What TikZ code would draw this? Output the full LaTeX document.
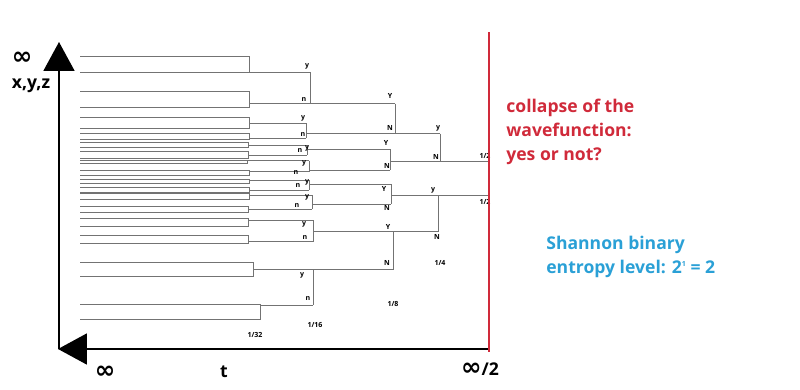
\documentclass[tikz,border=0pt]{standalone}
\usepackage{fontspec}
\setsansfont{Open Sans}
\newfontfamily\infinityfont{DejaVu Sans}
\usetikzlibrary{arrows.meta}
\definecolor{branchgray}{RGB}{115,115,115}
\definecolor{collapsered}{RGB}{208,42,58}
\definecolor{shannonblue}{RGB}{42,160,214}
\newcommand{\infsign}{{\infinityfont\bfseries\fontsize{14}{14}\selectfont ∞}}
\tikzset{branch/.style = {draw=branchgray, line width=0.5pt},
         axisline/.style = {line width=1.1pt, -{Triangle[length=0.58cm, width=0.62cm]}},
         tinylabel/.style = {font=\sffamily\bfseries\fontsize{4}{5}\selectfont, inner sep=0pt},
         axislabel/.style = {font=\sffamily\bfseries\fontsize{10}{11}\selectfont, inner sep=0pt},
         notetext/.style = {font=\sffamily\bfseries\fontsize{10}{13.6}\selectfont,
                            inner sep=0pt, align=left, anchor=north west}}

\begin{document}
\begin{tikzpicture}[x=0.02cm, y=-0.02cm]
    \useasboundingbox (0,0) rectangle (800,389);

    \coordinate (origin) at (59,349);
    \coordinate (ytip) at (59,42);
    \coordinate (xtip) at (58,349);
    \coordinate (cutbot) at (489,352);
    \coordinate (cuttop) at (489,32);

    % leaves, two by two (1/32)
    \foreach \ya/\yb/\bx/\yo/\ex in {56/72/249/72/310, 91/107/249/103.5/310,
        117/128.5/249/123/306, 133.5/139.5/249/138/306,
        142.5/147.5/248/145/307, 151.5/158/248/155/307,
        160.5/163/247/160.5/309, 170/175.5/249/171.5/309,
        179.5/183.5/249/180/309, 187.5/192.5/249/190/309,
        193.5/199.5/249/195/312, 206/212.5/248/209/312,
        218/226.5/248/220/313, 235/243.5/248/241.5/313,
        262.5/276.5/253/269.5/313, 304/319.5/260/305/313} {
      \draw [branch] (80,\ya) -- (\bx,\ya) -- (\bx,\yb) -- (80,\yb);
      \draw [branch] (\bx,\yo) -- (\ex,\yo);
    }
    % 1/16, 1/8, 1/4
    \foreach \bx/\ya/\yb/\yo/\ex in {310/72/103.5/103.5/395, 306/123/138/133.5/440,
        307/145/155/149/390, 309/160.5/171.5/170/390,
        309/180/190/184/391, 312/195/209/204/391,
        313/220/241.5/231.5/438, 313/269.5/305/269.5/393,
        395/103.5/133.5/133.5/440, 390/149/170/161.5/489,
        391/184/204/195/489, 393/231.5/269.5/231.5/438,
        440/133.5/161.5/161.5/489, 438/195/231.5/195/489} {
      \draw [branch] (\bx,\ya) -- (\bx,\yb);
      \draw [branch] (\bx,\yo) -- (\ex,\yo);
    }

    \foreach \lx/\ly/\txt [count=\i] in {307/66/y, 304/100/n, 303/118/y, 303/135/n,
        307/148/y, 300/151/n, 304/163/y, 296/173/n, 307/182/y, 298/186/n,
        307/197/y, 297/206/n, 304/224/y, 305/238/n, 302/275/y, 308/299/n,
        390/96/Y, 390/128/N, 386/143/Y, 387/166/N, 384/189/Y, 387/208/N,
        388/227/Y, 387/263/N, 438/128/y, 436/157/N, 433/190/y, 437/237/N,
        485/156/{1/2}, 485/202/{1/2}, 440/263/{1/4}, 393/304/{1/8},
        315/325/{1/16}, 255/335/{1/32}}
      \node [tinylabel] (lab\i) at (\lx,\ly) {\txt};

    \draw [axisline] (origin) -- (ytip);
    \draw [axisline] (cutbot |- origin) -- (xtip);
    \draw [collapsered, line width=1.1pt] (cuttop) -- (cutbot);

    \node [axislabel] (yinf) at (22,58) {\infsign};
    \node [axislabel] (yname) at (31,86) {x,y,z};
    \node [axislabel] (tinf) at (105,372) {\infsign};
    \node [axislabel] (tname) at (224,372) {t};
    \node [axislabel] (thalf) at (480,369) {\infsign/2};

    \node [notetext, text=collapsered] (collapse) at (506,99)
      {collapse of the\\wavefunction:\\yes or not?};
    \node [notetext, text=shannonblue] (shannon) at (546,236)
      {Shannon binary\\entropy level:
       2\raisebox{0.75ex}{\fontsize{4}{4}\selectfont 1} = 2};
\end{tikzpicture}
\end{document}
